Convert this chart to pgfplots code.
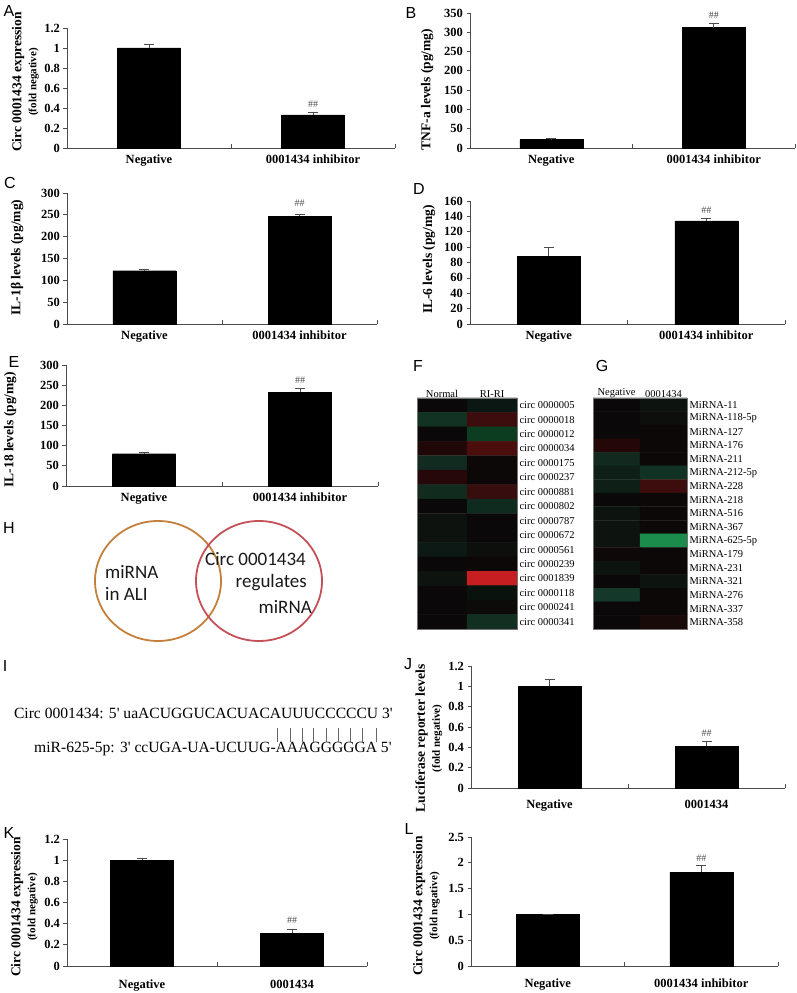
\documentclass[border=0pt]{standalone}
\usepackage{pgfplots}
\pgfplotsset{compat=1.18}
\usepackage{fontspec}
\setmainfont{Liberation Serif}
\newfontfamily\lsans{Liberation Sans}
\newfontfamily\calib{Carlito}

\definecolor{vennorange}{RGB}{196,128,58}
\definecolor{vennred}{RGB}{196,80,88}

\pgfplotsset{
  barax/.style={
    scale only axis,
    ybar, bar width=63pt,
    axis x line*=bottom, axis y line*=left,
    axis line style={draw=black!70, line width=0.7pt},
    xmin=-0.5, xmax=1.5, ymin=0,
    xtick={0,1},
    xtick style={draw=none},
    extra x ticks={0.5,1.5},
    extra x tick labels={},
    extra x tick style={tick align=inside, xtick style={draw=black!70}},
    ytick style={draw=black!70, line width=0.7pt},
    tick align=outside,
    major tick length=3.5pt,
    tick label style={font=\bfseries\fontsize{12.5}{14}\selectfont},
    ylabel style={font=\bfseries\fontsize{13.5}{15}\selectfont, align=center, anchor=center},
    clip=false,
  },
  bars/.style={fill=black, draw=black,
    error bars/.cd, y dir=plus, y explicit,
    error bar style={black!70, line width=0.7pt},
    error mark options={rotate=90, black!70, line width=0.7pt, mark size=5pt}},
  heat/.style={
    scale only axis, axis on top,
    xmin=-0.5, xmax=1.5, ymin=-0.5,
    y dir=reverse,
    xtick={0,1}, xticklabel pos=right,
    yticklabel pos=right,
    major tick length=0pt,
    axis line style={draw=black!55, line width=0.6pt},
    tick label style={font=\fontsize{10.5}{12}\selectfont},
    xticklabel style={yshift=-3pt},
    yticklabel style={xshift=-1pt},
  },
}
\newcommand{\hh}{\node[font=\fontsize{10}{12}\selectfont, text=black!70, anchor=south]}
\newcommand{\plab}[3]{\node[font=\lsans\fontsize{16}{18}\selectfont] at (#1pt,#2pt) {#3};}
\newcommand{\fold}{\\{\fontsize{11}{12}\selectfont (fold negative)}}

\begin{document}
\begin{tikzpicture}
\path[use as bounding box] (0,0) rectangle (796pt,993pt);

% A
\begin{axis}[barax, at={(67pt,845pt)}, anchor=south west, width=328pt, height=120pt,
  ymax=1.2, ytick={0,0.2,...,1.2}, yticklabels={0,0.2,0.4,0.6,0.8,1,1.2},
  xticklabels={Negative, 0001434 inhibitor},
  ylabel={Circ 0001434 expression\fold},
  ylabel style={at={(axis description cs:-0.1265,0.55)}}]
\addplot[bars] coordinates {(0,1.0) +- (0,0.04) (1,0.33) +- (0,0.03)};
\hh at (axis cs:1,0.37) {\#\#};
\end{axis}

% B
\begin{axis}[barax, at={(470pt,845pt)}, anchor=south west, width=325pt, height=135pt,
  ymax=350, ytick={0,50,...,350}, yticklabels={0,50,100,150,200,250,300,350},
  xticklabels={Negative, 0001434 inhibitor},
  ylabel={TNF-a levels (pg/mg)},
  ylabel style={at={(axis description cs:-0.132,0.433)}}]
\addplot[bars] coordinates {(0,22) +- (0,2) (1,312) +- (0,12)};
\hh at (axis cs:1,326) {\#\#};
\end{axis}

% C
\begin{axis}[barax, at={(67pt,669pt)}, anchor=south west, width=310pt, height=131pt,
  ymax=300, ytick={0,50,...,300}, yticklabels={0,50,100,150,200,250,300},
  xticklabels={Negative, 0001434 inhibitor},
  ylabel={IL-1β levels (pg/mg)},
  ylabel style={at={(axis description cs:-0.161,0.508)}}]
\addplot[bars] coordinates {(0,122) +- (0,2) (1,247) +- (0,5)};
\hh at (axis cs:1,262) {\#\#};
\end{axis}

% D
\begin{axis}[barax, at={(470pt,669pt)}, anchor=south west, width=315pt, height=123pt,
  ymax=160, ytick={0,20,...,160}, yticklabels={0,20,40,60,80,100,120,140,160},
  xticklabels={Negative, 0001434 inhibitor},
  ylabel={IL-6 levels (pg/mg)},
  ylabel style={at={(axis description cs:-0.130,0.524)}}]
\addplot[bars] coordinates {(0,88) +- (0,12) (1,134) +- (0,4)};
\hh at (axis cs:1,139) {\#\#};
\end{axis}

% E
\begin{axis}[barax, at={(66pt,507pt)}, anchor=south west, width=312pt, height=121pt,
  ymax=300, ytick={0,50,...,300}, yticklabels={0,50,100,150,200,250,300},
  xticklabels={Negative, 0001434 inhibitor},
  ylabel={IL-18 levels (pg/mg)},
  ylabel style={at={(axis description cs:-0.179,0.465)}}]
\addplot[bars] coordinates {(0,80) +- (0,4) (1,232) +- (0,10)};
\hh at (axis cs:1,245) {\#\#};
\end{axis}

% F heatmap
\begin{axis}[heat, at={(417pt,364pt)}, anchor=south west, width=100pt, height=231pt,
  ymax=15.5, xticklabels={Normal, RI-RI},
  ytick={0,...,15},
  yticklabels={circ 0000005, circ 0000018, circ 0000012, circ 0000034, circ 0000175,
    circ 0000237, circ 0000881, circ 0000802, circ 0000787, circ 0000672, circ 0000561,
    circ 0000239, circ 0001839, circ 0000118, circ 0000241, circ 0000341}]
\addplot[matrix plot*, mesh/cols=2, mesh/color input=explicit] table[meta=c] {
x y c
0 0 rgb=0.04,0.03,0.03
1 0 rgb=0.04,0.09,0.07
0 1 rgb=0.07,0.20,0.14
1 1 rgb=0.24,0.05,0.05
0 2 rgb=0.04,0.03,0.03
1 2 rgb=0.05,0.24,0.13
0 3 rgb=0.13,0.03,0.03
1 3 rgb=0.30,0.05,0.05
0 4 rgb=0.07,0.17,0.13
1 4 rgb=0.05,0.03,0.03
0 5 rgb=0.15,0.03,0.04
1 5 rgb=0.05,0.03,0.03
0 6 rgb=0.07,0.17,0.12
1 6 rgb=0.22,0.05,0.05
0 7 rgb=0.04,0.03,0.03
1 7 rgb=0.06,0.17,0.12
0 8 rgb=0.05,0.07,0.06
1 8 rgb=0.04,0.03,0.03
0 9 rgb=0.05,0.07,0.06
1 9 rgb=0.04,0.03,0.03
0 10 rgb=0.05,0.10,0.08
1 10 rgb=0.05,0.06,0.05
0 11 rgb=0.04,0.03,0.03
1 11 rgb=0.05,0.03,0.03
0 12 rgb=0.05,0.08,0.06
1 12 rgb=0.78,0.12,0.13
0 13 rgb=0.04,0.03,0.03
1 13 rgb=0.04,0.07,0.05
0 14 rgb=0.04,0.03,0.03
1 14 rgb=0.05,0.04,0.04
0 15 rgb=0.04,0.03,0.03
1 15 rgb=0.07,0.19,0.13
};
\end{axis}

% G heatmap
\begin{axis}[heat, at={(593pt,364pt)}, anchor=south west, width=94pt, height=231pt,
  ymax=16.5, xticklabels={Negative, 0001434},
  ytick={0,...,16},
  yticklabels={MiRNA-11, MiRNA-118-5p, MiRNA-127, MiRNA-176, MiRNA-211, MiRNA-212-5p,
    MiRNA-228, MiRNA-218, MiRNA-516, MiRNA-367, MiRNA-625-5p, MiRNA-179, MiRNA-231,
    MiRNA-321, MiRNA-276, MiRNA-337, MiRNA-358}]
\addplot[matrix plot*, mesh/cols=2, mesh/color input=explicit] table[meta=c] {
x y c
0 0 rgb=0.04,0.03,0.03
1 0 rgb=0.05,0.08,0.06
0 1 rgb=0.04,0.03,0.03
1 1 rgb=0.05,0.06,0.05
0 2 rgb=0.04,0.03,0.03
1 2 rgb=0.05,0.03,0.03
0 3 rgb=0.14,0.03,0.03
1 3 rgb=0.05,0.03,0.03
0 4 rgb=0.07,0.16,0.12
1 4 rgb=0.05,0.03,0.03
0 5 rgb=0.05,0.12,0.09
1 5 rgb=0.07,0.20,0.14
0 6 rgb=0.05,0.12,0.09
1 6 rgb=0.24,0.05,0.05
0 7 rgb=0.04,0.03,0.03
1 7 rgb=0.05,0.03,0.03
0 8 rgb=0.05,0.08,0.06
1 8 rgb=0.05,0.03,0.03
0 9 rgb=0.05,0.08,0.06
1 9 rgb=0.05,0.03,0.03
0 10 rgb=0.05,0.08,0.06
1 10 rgb=0.11,0.55,0.30
0 11 rgb=0.06,0.03,0.03
1 11 rgb=0.05,0.03,0.03
0 12 rgb=0.05,0.08,0.06
1 12 rgb=0.05,0.03,0.03
0 13 rgb=0.04,0.03,0.03
1 13 rgb=0.05,0.08,0.06
0 14 rgb=0.08,0.22,0.16
1 14 rgb=0.05,0.03,0.03
0 15 rgb=0.04,0.03,0.03
1 15 rgb=0.05,0.03,0.03
0 16 rgb=0.04,0.03,0.03
1 16 rgb=0.10,0.04,0.04
};
\end{axis}

% H Venn
\draw[vennorange, line width=1.8pt] (158pt,412pt) ellipse (63pt and 60pt);
\draw[vennred, line width=1.8pt] (259pt,412pt) ellipse (63pt and 60pt);
\begin{scope}[every node/.style={font=\calib\fontsize{19}{22}\selectfont, text=black!90, inner sep=0pt}]
\node[anchor=west, align=left] at (105pt,410pt) {miRNA\\in ALI};
\node[anchor=east] at (306pt,434pt) {Circ 0001434};
\node[anchor=east] at (307pt,410pt) {regulates};
\node[anchor=east] at (312pt,386pt) {miRNA};
\end{scope}

% I sequence
\begin{scope}[every node/.style={font=\fontsize{15.6}{18}\selectfont, inner sep=0pt}]
\node[anchor=east] at (393pt,280pt) {Circ 0001434: 5\textquotesingle\ uaACUGGUCACUACAUUUCCCCCU 3\textquotesingle};
\node[anchor=west] at (34pt,244pt) {miR-625-5p: 3\textquotesingle\ ccUGA-UA-UCUUG-AAAGGGGGA 5\textquotesingle};
\end{scope}
\foreach \xx in {277,290,302,313,326,338,350,362,376}
  \draw[black!60, line width=0.5pt] (\xx pt,265pt) -- (\xx pt,251pt);

% J
\begin{axis}[barax, at={(471pt,205pt)}, anchor=south west, width=314pt, height=122pt,
  ymax=1.2, ytick={0,0.2,...,1.2}, yticklabels={0,0.2,0.4,0.6,0.8,1,1.2},
  xticklabels={Negative, 0001434},
  xticklabel style={yshift=-5pt},
  ylabel={Luciferase reporter levels\fold},
  ylabel style={at={(axis description cs:-0.134,0.406)}}]
\addplot[bars] coordinates {(0,1.0) +- (0,0.07) (1,0.41) +- (0,0.05)};
\hh at (axis cs:1,0.47) {\#\#};
\end{axis}

% K
\begin{axis}[barax, at={(67pt,27pt)}, anchor=south west, width=300pt, height=127pt,
  ymax=1.2, ytick={0,0.2,...,1.2}, yticklabels={0,0.2,0.4,0.6,0.8,1,1.2},
  xticklabels={Negative, 0001434},
  xticklabel style={yshift=-7pt},
  ylabel={Circ 0001434 expression\fold},
  ylabel style={at={(axis description cs:-0.142,0.465)}}]
\addplot[bars] coordinates {(0,1.0) +- (0,0.02) (1,0.31) +- (0,0.04)};
\hh at (axis cs:1,0.37) {\#\#};
\end{axis}

% L
\begin{axis}[barax, at={(471pt,27pt)}, anchor=south west, width=307pt, height=129pt,
  ymax=2.5, ytick={0,0.5,...,2.5}, yticklabels={0,0.5,1,1.5,2,2.5},
  xticklabels={Negative, 0001434 inhibitor},
  xticklabel style={yshift=-6pt},
  ylabel={Circ 0001434 expression\fold},
  ylabel style={at={(axis description cs:-0.145,0.465)}}]
\addplot[bars] coordinates {(0,1.0) +- (0,0.01) (1,1.82) +- (0,0.13)};
\hh at (axis cs:1,1.96) {\#\#};
\end{axis}

% panel letters
\plab{9}{982}{A}
\plab{411}{980}{B}
\plab{10}{810}{C}
\plab{419}{804}{D}
\plab{14}{631}{E}
\plab{418}{627}{F}
\plab{602}{627}{G}
\plab{9}{465}{H}
\plab{5}{327}{I}
\plab{408}{329}{J}
\plab{9}{160}{K}
\plab{409}{164}{L}
\end{tikzpicture}
\end{document}
